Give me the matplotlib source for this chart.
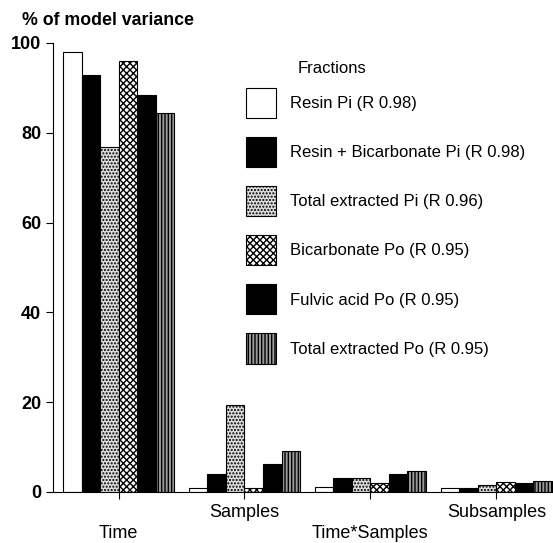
import numpy as np
import matplotlib
matplotlib.use("Agg")
import matplotlib.pyplot as plt
from matplotlib.patches import Patch

plt.rcParams['font.family'] = ['Liberation Sans', 'DejaVu Sans']
plt.rcParams['hatch.linewidth'] = 1.0

# Data
groups = ['Time', 'Samples', 'Time*Samples', 'Subsamples']
fractions = ['Resin Pi (R 0.98)', 'Resin + Bicarbonate Pi (R 0.98)',
             'Total extracted Pi (R 0.96)', 'Bicarbonate Po (R 0.95)',
             'Fulvic acid Po (R 0.95)', 'Total extracted Po (R 0.95)']
resin_pi = [98.0, 0.8, 1.2, 0.9]
resin_bic_pi = [92.8, 4.0, 3.0, 0.9]
total_pi = [76.8, 19.3, 3.2, 1.6]
bic_po = [96.0, 0.9, 2.0, 2.3]
fulvic_po = [88.5, 6.3, 4.0, 2.0]
total_po = [84.5, 9.1, 4.7, 2.5]

series = [resin_pi, resin_bic_pi, total_pi, bic_po, fulvic_po, total_po]
faces = ['white', 'black', '#dcdcdc', 'white', 'black', '#9a9a9a']
hatches = [None, None, '.....', 'xxxxx', None, '|||||']

fig = plt.figure(figsize=(5.53, 5.43), dpi=100)
ax = fig.add_axes([0.096, 0.094, 0.904, 0.827])

x = np.arange(len(groups))
width = 0.147
handles = []
for i, vals in enumerate(series):
    pos = x + (i - 2.5) * width
    ax.bar(pos, vals, width, color=faces[i], edgecolor='black', hatch=hatches[i],
           linewidth=0.8)
    handles.append(Patch(facecolor=faces[i], edgecolor='black', hatch=hatches[i],
                         linewidth=0.8, label=fractions[i]))

ax.set_xlim(-0.52, 3.45)
ax.set_ylim(0, 100)
ax.set_yticks([0, 20, 40, 60, 80, 100])
ax.tick_params(axis='y', labelsize=13, length=5, width=0.8)
for lab in ax.get_yticklabels():
    lab.set_fontweight('bold')

# alternating label heights, long ticks under Time and Time*Samples
ax.set_xticks(x)
ax.set_xticklabels(groups, fontsize=13)
ax.tick_params(axis='x', which='major', length=5, width=0.8)
ax.set_xticks(x[::2], minor=True)
ax.tick_params(axis='x', which='minor', length=18, width=0.8)
for i, tick in enumerate(ax.xaxis.get_major_ticks()):
    tick.set_pad(19 if i % 2 == 0 else 4)

ax.spines['top'].set_visible(False)
ax.spines['right'].set_visible(False)
ax.spines['left'].set_linewidth(0.8)
ax.spines['bottom'].set_linewidth(0.8)

fig.text(0.04, 0.963, '% of model variance', fontsize=12.8, fontweight='bold',
         va='center', ha='left')

leg = ax.legend(handles=handles, title='Fractions', loc='upper left',
                bbox_to_anchor=(0.372, 0.99), frameon=False, fontsize=12,
                title_fontsize=12, handlelength=1.8, handleheight=2.4,
                labelspacing=1.14, handletextpad=0.85, borderaxespad=0)
leg._legend_box.align = 'left'
leg.get_title().set_position((52, -7))

fig.savefig('out.png', dpi=100)
